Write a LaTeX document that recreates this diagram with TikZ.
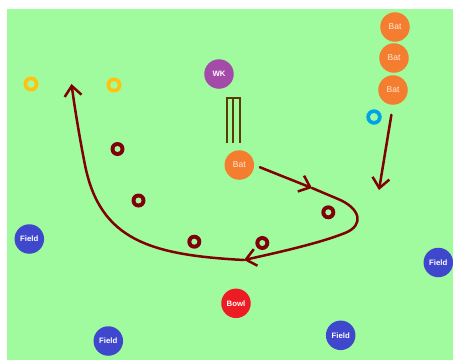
\documentclass[tikz,border=0pt]{standalone}
\usepackage{fontspec}
\setmainfont{Liberation Sans}
\usetikzlibrary{arrows.meta,calc}
\definecolor{pitch}{RGB}{160,251,158}
\definecolor{batc}{RGB}{244,125,48}
\definecolor{wkc}{RGB}{164,74,168}
\definecolor{fieldc}{RGB}{63,72,204}
\definecolor{bowlc}{RGB}{237,28,36}
\definecolor{goldc}{RGB}{255,194,14}
\definecolor{cyanc}{RGB}{0,162,232}
\definecolor{maroonc}{RGB}{128,0,10}
\definecolor{runc}{RGB}{128,0,0}
\definecolor{stumpc}{RGB}{90,60,0}
\definecolor{cream}{RGB}{255,236,215}
\tikzset{
  player/.style={circle, minimum size=29.5pt, inner sep=0pt, text=white,
    font=\fontsize{7.8}{8}\selectfont\bfseries},
  batter/.style={player, fill=batc, text=cream, font=\fontsize{8.5}{9}\selectfont},
  keeper/.style={player, fill=wkc},
  fielder/.style={player, fill=fieldc},
  bowler/.style={player, fill=bowlc},
  ring/.style={circle, inner sep=0pt, minimum size=14pt,
    path picture={\fill[pitch] (path picture bounding box.center) circle (#1);}},
  redring/.style={ring=3pt, fill=maroonc},
  goldring/.style={ring=3.8pt, fill=goldc, minimum size=15pt},
  bluering/.style={ring=4pt, fill=cyanc, minimum size=15.5pt},
  stump/.style={draw=stumpc, line width=2.2pt, line join=miter},
  run/.style={draw=runc, line width=2.5pt, line cap=round, line join=round,
    -{Straight Barb[length=10pt,width=17pt,line width=2.5pt]}}
}
\begin{document}
\begin{tikzpicture}[x=1pt,y=-1pt]
\useasboundingbox (0,0) rectangle (453,360);
\fill[white] (0,0) rectangle (453,360);
\fill[pitch] (7,9) rectangle (453,360);

% batters waiting
\node[batter] (bat1) at (395,27) {Bat};
\node[batter] (bat2) at (394,58) {Bat};
\node[batter] (bat3) at (393,90) {Bat};
\node[bluering] (cy) at (374,117) {};

% keeper, stumps, striker
\node[keeper] (wk) at (219,74) {WK};
\draw[stump] (226.7,143) -- (226.7,98) -- (240,98) -- (240,143);
\draw[stump] (233.3,98) -- (233.3,143);
\node[batter] (bat) at (239.3,165) {Bat};

% rings
\node[goldring] (g1) at (31,84) {};
\node[goldring] (g2) at (114,85) {};
\node[redring] (r1) at (117.5,149) {};
\node[redring] (r2) at (138.5,200.5) {};
\node[redring] (r3) at (194.3,241.7) {};
\node[redring] (r4) at (262.3,243) {};
\node[redring] (r5) at (328.3,212.3) {};

% fielders and bowler
\node[fielder] (f1) at (29.3,239) {Field};
\node[fielder] (f2) at (438.3,262.5) {Field};
\node[fielder] (f3) at (108.3,341) {Field};
\node[fielder] (f4) at (340.7,335.3) {Field};
\node[bowler] (bowl) at (236,303.3) {Bowl};

% run path
\coordinate (a1) at (312,188);
\coordinate (a2) at (244,260);
\coordinate (a3) at (71.5,84);
\coordinate (a4) at (379,190);
\draw[run, shorten <=6pt] (bat.east) -- (a1);
\draw[run] (a1) -- (338,199) .. controls (360,208) and (365,225) .. (345,233)
  .. controls (320,243) and (280,252) .. (a2);
\draw[run] (a2) .. controls (150,255) and (100,240) .. (85,165)
  .. controls (80,140) and (75,110) .. (a3);
\draw[run, shorten <=10pt] (bat3.south) -- (a4);
\end{tikzpicture}
\end{document}
